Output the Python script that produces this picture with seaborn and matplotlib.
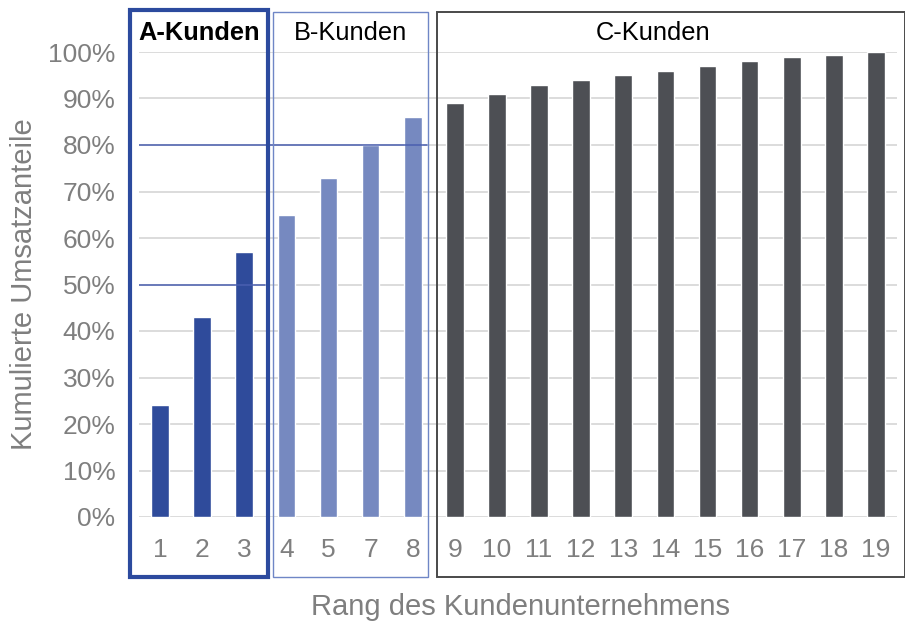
import matplotlib
matplotlib.use("Agg")
import matplotlib.pyplot as plt
from matplotlib.patches import Rectangle
import pandas as pd
import seaborn as sns

# Rang der Kunden (Rang 6 fehlt im Original)
ranks = ["1", "2", "3", "4", "5", "7", "8", "9", "10", "11", "12",
         "13", "14", "15", "16", "17", "18", "19"]
cum_share = [24, 43, 57, 65, 73, 80, 86, 89, 91, 93, 94, 95, 96, 97, 98, 99, 99.3, 100]
groups = ["A"] * 3 + ["B"] * 4 + ["C"] * 11
group_colors = {"A": "#2f4b9b", "B": "#7689c0", "C": "#4d4f54"}
y_ticks = [0, 10, 20, 30, 40, 50, 60, 70, 80, 90, 100]

df = pd.DataFrame({"rank": ranks, "share": cum_share, "group": groups})

sns.set_theme(style="white")
plt.rcParams["font.family"] = ["Liberation Sans", "DejaVu Sans"]

fig = plt.figure(figsize=(9.05, 6.22), dpi=100)
ax = fig.add_axes([139 / 905, 105 / 622, 758 / 905, 465 / 622])

sns.barplot(data=df, x="rank", y="share", hue="group", palette=group_colors,
            order=ranks, dodge=False, width=0.42, saturation=1, legend=False,
            ax=ax, zorder=3)

ax.set_ylim(0, 100)
ax.set_xlim(-0.5, len(ranks) - 0.5)
ax.set_yticks(y_ticks)
ax.set_yticklabels([f"{v}%" for v in y_ticks])
ax.grid(axis="y", color="#d9d9d9", linewidth=1.3, zorder=0)
ax.set_axisbelow(True)
sns.despine(ax=ax, left=True, bottom=True)
ax.tick_params(axis="both", length=0, labelsize=19, labelcolor="#7f7f7f")
ax.tick_params(axis="y", pad=17)
ax.tick_params(axis="x", pad=15)

ax.set_xlabel("Rang des Kundenunternehmens", fontsize=21, color="#7f7f7f")
ax.set_ylabel("Kumulierte Umsatzanteile", fontsize=21, color="#7f7f7f")
ax.xaxis.set_label_coords(0.503, -0.163)
ax.yaxis.set_label_coords(-0.133, 0.5)

# 50 % / 80 % Grenzlinien
ax.plot([-0.5, 6.35], [80, 80], color="#4a5fb0", linewidth=1.1, zorder=4)
ax.plot([-0.5, 2.5], [50, 50], color="#4a5fb0", linewidth=1.1, zorder=4)

# Rahmen der Kundengruppen (x in Daten, y in Achsenanteilen)
trans = ax.get_xaxis_transform()
boxes = [(-0.71, 2.57, 1.09, "#2c4a9e", 3.0),
         (2.68, 6.37, 1.086, "#6f86c6", 1.0),
         (6.58, 17.7, 1.086, "#4a4a4a", 1.4)]
for x0, x1, top, col, lw in boxes:
    ax.add_patch(Rectangle((x0, -0.129), x1 - x0, top + 0.129, transform=trans,
                           fill=False, edgecolor=col, linewidth=lw, clip_on=False, zorder=5))

ax.text(0.93, 1.04, "A-Kunden", transform=trans, ha="center", va="center",
        fontsize=18.3, fontweight="bold", color="black")
ax.text(4.53, 1.04, "B-Kunden", transform=trans, ha="center", va="center",
        fontsize=18.3, color="black")
ax.text(11.7, 1.04, "C-Kunden", transform=trans, ha="center", va="center",
        fontsize=18.3, color="black")

fig.savefig("out.png", dpi=100)
